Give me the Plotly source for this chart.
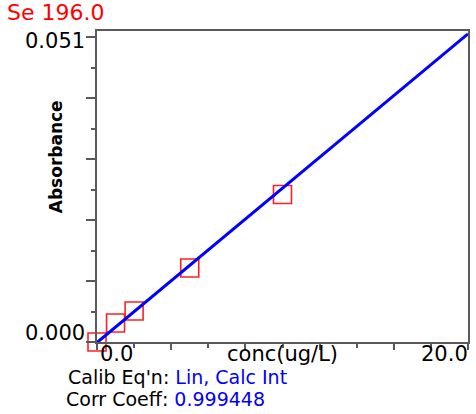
import numpy as np
import plotly.graph_objects as go

# Data
conc = [0.0, 1.0, 2.0, 5.0, 10.0, 20.0]
absorbance = [0.0, 0.00312, 0.00508, 0.01213, 0.02419, 0.0511]
title_text = "Se 196.0"
y_label = "Absorbance"
x_label = "conc(ug/L)"
x_tick_labels = ["0.0", "20.0"]
y_tick_labels = ["0.051", "0.000"]
calib_eq = "Lin, Calc Int"
corr_coeff = "0.999448"

W, H = 476, 414
L, R, T, B = 97, 6, 31, 72
PW, PH = W - L - R, H - T - B

def px(x):
    return (x - L) / PW

def py(y):
    return (T + PH - y) / PH

slope, intercept = np.polyfit(conc, absorbance, 1)
xfit = np.array([min(conc), max(conc)])
yfit = slope * xfit + intercept

fig = go.Figure()
fig.add_trace(go.Scatter(
    x=conc, y=absorbance, mode="markers", cliponaxis=False,
    marker=dict(symbol="square-open", size=18, color="#ff2020",
                line=dict(width=1.6, color="#ff2020")),
    showlegend=False, hoverinfo="skip"))
fig.add_trace(go.Scatter(
    x=xfit, y=yfit, mode="lines", cliponaxis=False,
    line=dict(color="#0000ff", width=3), showlegend=False, hoverinfo="skip"))

FONT = "DejaVu Sans, Arial, sans-serif"
axis_common = dict(showgrid=False, zeroline=False, showline=True, mirror=True,
                   linecolor="#5a5a5a", linewidth=2, ticks="outside",
                   tickcolor="#5a5a5a", tickwidth=1.5, showticklabels=False)
fig.update_xaxes(range=[0, 20], tick0=0, dtick=4, ticklen=6,
                 minor=dict(dtick=2, ticklen=4, ticks="outside", tickcolor="#5a5a5a", tickwidth=1.5),
                 **axis_common)
fig.update_yaxes(range=[0, 0.051], tick0=0, dtick=0.01, ticklen=9,
                 minor=dict(dtick=0.005, ticklen=4, ticks="outside", tickcolor="#5a5a5a", tickwidth=1.5),
                 **axis_common)

ann = []
def add(text, x, y, xanchor, size=21, color="black", angle=0, yanchor="middle"):
    ann.append(dict(text=text, x=px(x), y=py(y), xref="paper", yref="paper",
                    xanchor=xanchor, yanchor=yanchor, showarrow=False, textangle=angle,
                    borderpad=0,
                    font=dict(family=FONT, size=size, color=color)))

add(title_text, 6, 13, "left", size=22, color="#ff0000")
add(y_tick_labels[0], 86, 41, "right")
add(y_tick_labels[1], 86, 333, "right")
add(x_tick_labels[0], 99, 354, "left")
add(x_tick_labels[1], 471, 354, "right")
add(x_label, 283, 354, "center", size=21)
add("<b>" + y_label + "</b>", 56, 157, "center", size=17, angle=-90)
add("Calib Eq'n: <span style='color:#0000ff'>" + calib_eq + "</span>", 67, 377, "left", size=19)
add("Corr Coeff: <span style='color:#0000ff'>" + corr_coeff + "</span>", 65, 399, "left", size=19)

fig.update_layout(width=W, height=H, margin=dict(l=L, r=R, t=T, b=B),
                  paper_bgcolor="white", plot_bgcolor="white",
                  annotations=ann, showlegend=False)
fig.write_html("out.html")
